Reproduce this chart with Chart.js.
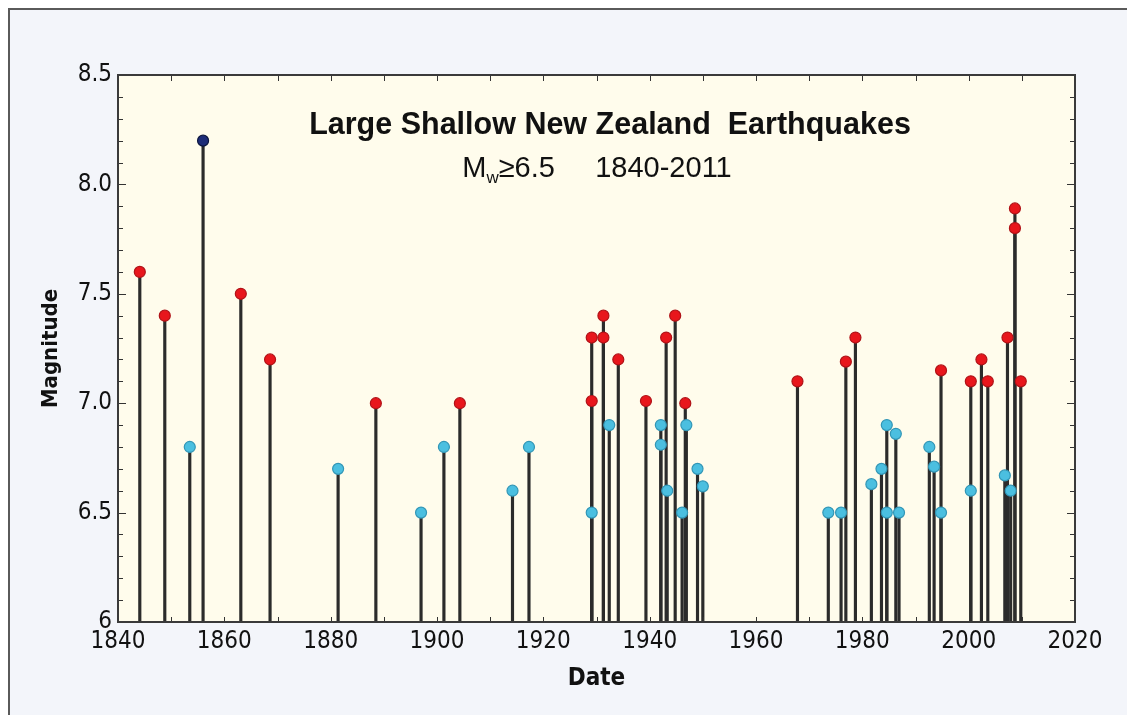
<!DOCTYPE html>
<html lang="en">
  <head>
    <meta charset="UTF-8" />
    <title>Large Shallow New Zealand Earthquakes</title>
    <script src="https://cdn.jsdelivr.net/npm/chart.js"></script>
    <style>
      html, body { margin: 0; padding: 0; background: #ffffff; }
      #wrap { position: relative; width: 1127px; height: 715px; overflow: hidden; }
      .frame {
        position: absolute; left: 8px; top: 8px; width: 1200px; height: 800px;
        border-left: 2px solid #5a5a5a; border-top: 2px solid #5a5a5a;
        background: #f3f5fa;
      }
      canvas { position: absolute; left: 0; top: 0; }
      .title {
        position: absolute; left: 210px; width: 800px; top: 106px;
        text-align: center; font: bold 30.5px "Liberation Sans", Arial, sans-serif;
        line-height: 34px; color: #111; white-space: nowrap;
      }
      .subtitle {
        position: absolute; left: 197px; width: 800px; top: 150px;
        text-align: center; font: 29px "Liberation Sans", Arial, sans-serif;
        line-height: 34px; color: #111; white-space: nowrap;
      }
      .subtitle sub { font-size: 17px; vertical-align: -6px; line-height: 0; }
    </style>
  </head>
  <body>
    <div id="wrap">
      <div class="frame"></div>
      <canvas id="quakeChart" width="1127" height="715"></canvas>
      <div class="title">Large Shallow New Zealand&nbsp; Earthquakes</div>
      <div class="subtitle">M<sub>w</sub>&#8805;6.5&nbsp;&nbsp;&nbsp;&nbsp; 1840-2011</div>
    </div>

    <script>
      // M >= 7.0 events (red)
      const redYears = [1844.1, 1848.8, 1863.1, 1868.6, 1888.5, 1904.3, 1929.1, 1929.1,
        1931.3, 1931.3, 1934.1, 1939.3, 1943.1, 1944.8, 1946.7, 1967.8, 1976.9,
        1978.7, 1994.8, 2000.4, 2002.4, 2003.6, 2007.3, 2008.7, 2008.7, 2009.8];
      const redMags = [7.6, 7.4, 7.5, 7.2, 7.0, 7.0, 7.3, 7.01,
        7.4, 7.3, 7.2, 7.01, 7.3, 7.4, 7.0, 7.1, 7.19,
        7.3, 7.15, 7.1, 7.2, 7.1, 7.3, 7.89, 7.8, 7.1];

      // M < 7.0 events (cyan)
      const cyanYears = [1853.5, 1881.4, 1897.0, 1901.3, 1914.2, 1917.3, 1929.1, 1932.4,
        1942.1, 1942.1, 1943.3, 1946.1, 1946.9, 1949.0, 1950.0, 1973.6, 1976.0,
        1981.7, 1983.6, 1984.6, 1984.6, 1986.3, 1986.9, 1992.6, 1993.5, 1994.8,
        2000.4, 2006.8, 2007.9];
      const cyanMags = [6.8, 6.7, 6.5, 6.8, 6.6, 6.8, 6.5, 6.9,
        6.9, 6.81, 6.6, 6.5, 6.9, 6.7, 6.62, 6.5, 6.5,
        6.63, 6.7, 6.9, 6.5, 6.86, 6.5, 6.8, 6.71, 6.5,
        6.6, 6.67, 6.6];

      // the great 1855 Wairarapa event (navy)
      const navyYears = [1856.0];
      const navyMags = [8.2];

      const xTicks = [1840, 1860, 1880, 1900, 1920, 1940, 1960, 1980, 2000, 2020];
      const yTicks = [6, 6.5, 7, 7.5, 8, 8.5];

      const toPoints = (xs, ys) => xs.map((x, i) => ({ x, y: ys[i] }));
      const stems = [
        ...toPoints(redYears, redMags),
        ...toPoints(cyanYears, cyanMags),
        ...toPoints(navyYears, navyMags),
      ];

      const narrow = "'Liberation Sans Narrow', 'DejaVu Sans Condensed', sans-serif";

      // cream plot area, full box and inward ticks on all four sides
      const plotFrame = {
        id: "plotFrame",
        beforeDraw(chart) {
          const { ctx, chartArea: a } = chart;
          ctx.save();
          ctx.fillStyle = "#fffcec";
          ctx.fillRect(a.left, a.top, a.right - a.left, a.bottom - a.top);
          ctx.restore();
        },
        afterDraw(chart) {
          const { ctx, chartArea: a, scales } = chart;
          ctx.save();
          ctx.strokeStyle = "#333";
          ctx.lineWidth = 1;
          for (let yr = 1850; yr < 2020; yr += 10) {
            const px = Math.round(scales.x.getPixelForValue(yr)) + 0.5;
            ctx.beginPath();
            ctx.moveTo(px, a.top); ctx.lineTo(px, a.top + 6);
            ctx.moveTo(px, a.bottom); ctx.lineTo(px, a.bottom - 5);
            ctx.stroke();
          }
          for (let i = 1; i < 25; i++) {
            const v = 6 + i * 0.1;
            const len = i % 5 === 0 ? 8 : 5;
            const py = Math.round(scales.y.getPixelForValue(v)) + 0.5;
            ctx.beginPath();
            ctx.moveTo(a.left, py); ctx.lineTo(a.left + len, py);
            ctx.moveTo(a.right, py); ctx.lineTo(a.right - len, py);
            ctx.stroke();
          }
          ctx.lineWidth = 2;
          ctx.strokeStyle = "#3a3a3a";
          ctx.strokeRect(a.left, a.top, a.right - a.left, a.bottom - a.top);
          ctx.restore();
        },
      };

      const marker = (fill, edge) => ({
        type: "scatter",
        pointRadius: 5.5,
        pointBackgroundColor: fill,
        pointBorderColor: edge,
        pointBorderWidth: 1.2,
        order: 1,
      });

      new Chart(document.getElementById("quakeChart"), {
        type: "bar",
        data: {
          datasets: [
            {
              data: stems,
              backgroundColor: "#2b2b2b",
              barThickness: 2.5,
              grouped: false,
              order: 10,
            },
            { ...marker("#e8161c", "#b01217"), data: toPoints(redYears, redMags) },
            { ...marker("#4bbfe0", "#3296b6"), data: toPoints(cyanYears, cyanMags) },
            { ...marker("#1d2c78", "#0c163e"), data: toPoints(navyYears, navyMags) },
          ],
        },
        options: {
          responsive: false,
          animation: false,
          devicePixelRatio: 1,
          layout: { padding: { top: 75, right: 52, left: 0, bottom: 0 } },
          plugins: { legend: { display: false }, tooltip: { enabled: false } },
          scales: {
            x: {
              type: "linear",
              min: 1840,
              max: 2020,
              offset: false,
              afterBuildTicks: (s) => { s.ticks = xTicks.map((value) => ({ value })); },
              afterFit: (s) => { s.height = 93; },
              grid: { display: false, drawTicks: false },
              border: { display: false },
              ticks: {
                autoSkip: false,
                maxRotation: 0,
                padding: 5,
                color: "#111",
                font: { family: narrow, size: 24 },
                callback: (v) => String(v),
              },
              title: {
                display: true,
                text: "Date",
                color: "#111",
                font: { family: narrow, size: 24, weight: "bold" },
                padding: { top: 0, bottom: 22 },
              },
            },
            y: {
              min: 6,
              max: 8.5,
              afterBuildTicks: (s) => { s.ticks = yTicks.map((value) => ({ value })); },
              afterFit: (s) => { s.width = 118; },
              grid: { display: false, drawTicks: false },
              border: { display: false },
              ticks: {
                padding: 6,
                color: "#111",
                font: { family: narrow, size: 24 },
                callback: (v) => (v === 6 ? "6" : v.toFixed(1)),
              },
              title: {
                display: true,
                text: "Magnitude",
                color: "#111",
                font: { family: narrow, size: 22, weight: "bold" },
                padding: { top: 38, bottom: 0 },
              },
            },
          },
        },
        plugins: [plotFrame],
      });
    </script>
  </body>
</html>
